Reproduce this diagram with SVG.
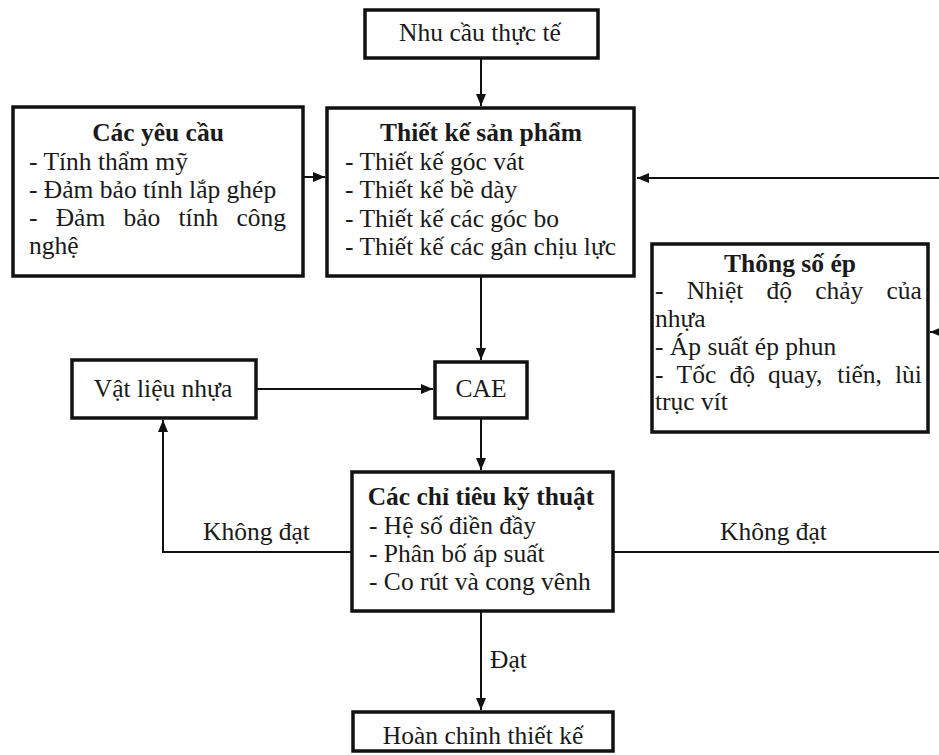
<svg xmlns="http://www.w3.org/2000/svg" width="939" height="755" viewBox="0 0 939 755">
<style>
.box{fill:#fff;stroke:#111;stroke-width:3.5}
.t{font-family:"Liberation Serif","Times New Roman",serif;font-size:25.5px;fill:#1a1a1a}
.b{font-weight:bold}
.c{text-anchor:middle}
.ln{fill:none;stroke:#111;stroke-width:2}
</style>
<defs>
<marker id="ah" markerUnits="userSpaceOnUse" markerWidth="12" markerHeight="10" refX="12" refY="5" orient="auto">
<path d="M0,0 L12,5 L0,10 z" fill="#111"/>
</marker>
</defs>
<rect width="939" height="755" fill="#fff"/>

<g id="connectors">
<line class="ln" x1="481" y1="58" x2="481" y2="106" marker-end="url(#ah)"/>
<line class="ln" x1="303" y1="177" x2="325" y2="177" marker-end="url(#ah)"/>
<line class="ln" x1="939" y1="178" x2="637" y2="178" marker-end="url(#ah)"/>
<line class="ln" x1="939" y1="332" x2="930" y2="332" marker-end="url(#ah)"/>
<line class="ln" x1="481" y1="277" x2="481" y2="360" marker-end="url(#ah)"/>
<line class="ln" x1="256" y1="389" x2="433" y2="389" marker-end="url(#ah)"/>
<line class="ln" x1="481" y1="418" x2="481" y2="470" marker-end="url(#ah)"/>
<polyline class="ln" points="352,552 163,552 163,420" marker-end="url(#ah)"/>
<line class="ln" x1="613" y1="552" x2="939" y2="552"/>
<line class="ln" x1="481" y1="611" x2="481" y2="710" marker-end="url(#ah)"/>
<text class="t" x="203" y="540">Không đạt</text>
<text class="t" x="720" y="540">Không đạt</text>
<text class="t" x="490" y="668">Đạt</text>
</g>

<g id="nhu-cau">
<rect class="box" x="365" y="10" width="233" height="48"/>
<text class="t c" x="480" y="41">Nhu cầu thực tế</text>
</g>

<g id="cac-yeu-cau">
<rect class="box" x="13" y="107" width="290" height="169"/>
<text class="t b c" x="158" y="141">Các yêu cầu</text>
<text class="t" x="29" y="170">- Tính thẩm mỹ</text>
<text class="t" x="29" y="198">- Đảm bảo tính lắp ghép</text>
<text class="t" y="226"><tspan x="29">-</tspan><tspan x="55.7">Đảm</tspan><tspan x="123.5">bảo</tspan><tspan x="178.5">tính</tspan><tspan x="236.5">công</tspan></text>
<text class="t" x="29" y="254">nghệ</text>
</g>

<g id="thiet-ke">
<rect class="box" x="327" y="108" width="307" height="168"/>
<text class="t b c" x="481" y="141">Thiết kế sản phẩm</text>
<text class="t" x="345" y="170">- Thiết kế góc vát</text>
<text class="t" x="345" y="198">- Thiết kế bề dày</text>
<text class="t" x="345" y="227">- Thiết kế các góc bo</text>
<text class="t" x="345" y="255">- Thiết kế các gân chịu lực</text>
</g>

<g id="thong-so-ep">
<rect class="box" x="652" y="244" width="276" height="188"/>
<text class="t b c" x="790" y="272">Thông số ép</text>
<text class="t" y="299"><tspan x="655">-</tspan><tspan x="686.7">Nhiệt</tspan><tspan x="766.5">độ</tspan><tspan x="815.2">chảy</tspan><tspan x="886.5">của</tspan></text>
<text class="t" x="655" y="327">nhựa</text>
<text class="t" x="655" y="355">- Áp suất ép phun</text>
<text class="t" y="383"><tspan x="655">-</tspan><tspan x="676.6">Tốc</tspan><tspan x="729.5">độ</tspan><tspan x="768.1">quay,</tspan><tspan x="837.3">tiến,</tspan><tspan x="895">lùi</tspan></text>
<text class="t" x="655" y="410">trục vít</text>
</g>

<g id="vat-lieu">
<rect class="box" x="72" y="360" width="184" height="58"/>
<text class="t c" x="163" y="397">Vật liệu nhựa</text>
</g>

<g id="cae">
<rect class="box" x="435" y="362" width="92" height="56"/>
<text class="t c" x="481" y="397">CAE</text>
</g>

<g id="chi-tieu">
<rect class="box" x="352" y="472" width="261" height="139"/>
<text class="t b c" x="481" y="505">Các chỉ tiêu kỹ thuật</text>
<text class="t" x="369" y="534">- Hệ số điền đầy</text>
<text class="t" x="369" y="562">- Phân bố áp suất</text>
<text class="t" x="369" y="590">- Co rút và cong vênh</text>
</g>

<g id="hoan-chinh">
<rect class="box" x="353" y="712" width="260" height="39"/>
<text class="t c" x="483" y="744">Hoàn chỉnh thiết kế</text>
</g>
</svg>
